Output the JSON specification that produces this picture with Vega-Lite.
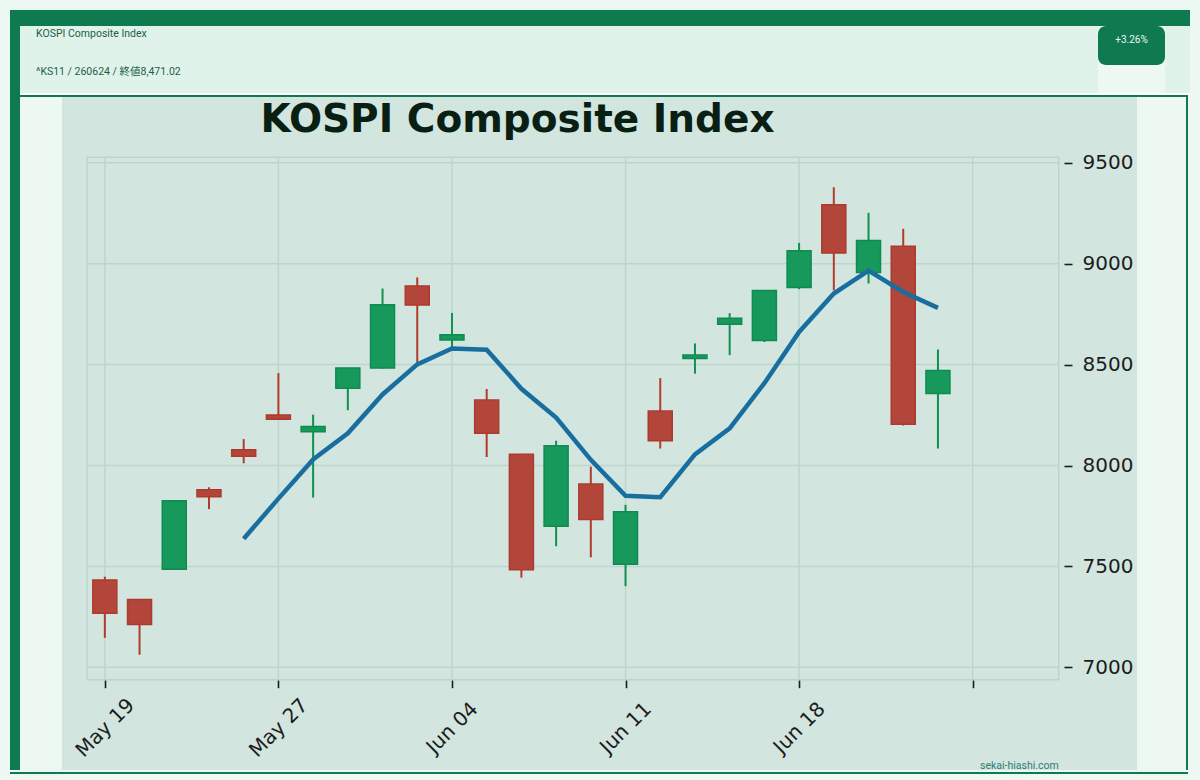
{
  "$schema": "https://vega.github.io/schema/vega-lite/v6.json",
  "background": "#edf8f2",
  "padding": {"left": 10, "top": 10, "right": 10, "bottom": 8},
  "spacing": 0,
  "config": {"view": {"stroke": null}, "font": "DejaVu Sans"},
  "datasets": {
    "ohlc": [
      {"i": 0, "date": "2026-05-19", "open": 7433, "high": 7449, "low": 7146, "close": 7268, "ma": null},
      {"i": 1, "date": "2026-05-20", "open": 7336, "high": 7338, "low": 7062, "close": 7212, "ma": null},
      {"i": 2, "date": "2026-05-21", "open": 7486, "high": 7828, "low": 7484, "close": 7825, "ma": null},
      {"i": 3, "date": "2026-05-22", "open": 7880, "high": 7892, "low": 7784, "close": 7845, "ma": null},
      {"i": 4, "date": "2026-05-26", "open": 8078, "high": 8131, "low": 8011, "close": 8046, "ma": 7637},
      {"i": 5, "date": "2026-05-27", "open": 8250, "high": 8458, "low": 8226, "close": 8229, "ma": 7836},
      {"i": 6, "date": "2026-05-28", "open": 8167, "high": 8252, "low": 7841, "close": 8193, "ma": 8030},
      {"i": 7, "date": "2026-05-29", "open": 8383, "high": 8485, "low": 8274, "close": 8483, "ma": 8160},
      {"i": 8, "date": "2026-06-01", "open": 8483, "high": 8877, "low": 8480, "close": 8796, "ma": 8352},
      {"i": 9, "date": "2026-06-02", "open": 8890, "high": 8932, "low": 8505, "close": 8795, "ma": 8501},
      {"i": 10, "date": "2026-06-04", "open": 8622, "high": 8756, "low": 8585, "close": 8648, "ma": 8580},
      {"i": 11, "date": "2026-06-05", "open": 8324, "high": 8379, "low": 8042, "close": 8160, "ma": 8574},
      {"i": 12, "date": "2026-06-08", "open": 8056, "high": 8058, "low": 7444, "close": 7483, "ma": 8380},
      {"i": 13, "date": "2026-06-09", "open": 7699, "high": 8123, "low": 7600, "close": 8098, "ma": 8238},
      {"i": 14, "date": "2026-06-10", "open": 7908, "high": 7994, "low": 7545, "close": 7733, "ma": 8028},
      {"i": 15, "date": "2026-06-11", "open": 7511, "high": 7805, "low": 7402, "close": 7771, "ma": 7850},
      {"i": 16, "date": "2026-06-12", "open": 8270, "high": 8433, "low": 8084, "close": 8123, "ma": 7843},
      {"i": 17, "date": "2026-06-15", "open": 8530, "high": 8605, "low": 8455, "close": 8547, "ma": 8055},
      {"i": 18, "date": "2026-06-16", "open": 8700, "high": 8755, "low": 8547, "close": 8730, "ma": 8184},
      {"i": 19, "date": "2026-06-17", "open": 8620, "high": 8869, "low": 8612, "close": 8867, "ma": 8408},
      {"i": 20, "date": "2026-06-18", "open": 8882, "high": 9103, "low": 8874, "close": 9064, "ma": 8662},
      {"i": 21, "date": "2026-06-19", "open": 9292, "high": 9379, "low": 8868, "close": 9053, "ma": 8852},
      {"i": 22, "date": "2026-06-22", "open": 8956, "high": 9252, "low": 8902, "close": 9115, "ma": 8966},
      {"i": 23, "date": "2026-06-23", "open": 9086, "high": 9173, "low": 8198, "close": 8204, "ma": 8860},
      {"i": 24, "date": "2026-06-24", "open": 8357, "high": 8575, "low": 8084, "close": 8471.02, "ma": 8781}
    ],
    "hgrid": [{"v": 7000}, {"v": 7500}, {"v": 8000}, {"v": 8500}, {"v": 9000}, {"v": 9500}],
    "vgrid": [{"i": 0}, {"i": 5}, {"i": 10}, {"i": 15}, {"i": 20}, {"i": 25}]
  },
  "vconcat": [
    {"width": 1180, "height": 16, "data": {"values": []}, "mark": "point", "view": {"fill": "#0f7950", "stroke": null}},
    {
      "hconcat": [
        {"width": 10, "height": 67, "data": {"values": []}, "mark": "point", "view": {"fill": "#0f7950", "stroke": null}},
        {
          "width": 1078, "height": 67,
          "data": {"values": []}, "mark": "point",
          "view": {"fill": "#dff3ea", "stroke": null},
          "title": {"text": "KOSPI Composite Index", "subtitle": "^KS11 / 260624 / 終値8,471.02", "anchor": "start", "frame": "group", "orient": "top", "offset": -51, "dx": 16, "font": "Roboto", "fontSize": 10.5, "fontWeight": "normal", "color": "#1e5e47", "subtitleFont": "Roboto, Noto Sans CJK JP", "subtitleFontSize": 10.5, "subtitleColor": "#1e5e47", "subtitlePadding": 27}
        },
        {
          "width": 67, "height": 39,
          "data": {"values": [{"t": "+3.26%"}]},
          "mark": {"type": "text", "font": "Roboto", "fontSize": 10, "color": "#eef8f3", "baseline": "middle", "align": "center", "dy": -6},
          "encoding": {"text": {"field": "t"}},
          "view": {"fill": "#0f7950", "stroke": null, "cornerRadius": 8}
        },
        {"width": 25, "height": 67, "data": {"values": []}, "mark": "point", "view": {"fill": "#dff3ea", "stroke": null}}
      ],
      "spacing": 0, "bounds": "flush"
    },
    {
      "hconcat": [
        {"width": 10, "height": 2, "data": {"values": []}, "mark": "point", "view": {"fill": "#0f7950", "stroke": null}},
        {"width": 1170, "height": 2, "data": {"values": []}, "mark": "point", "view": {"fill": "#ffffff", "stroke": null}}
      ],
      "spacing": 0, "bounds": "flush"
    },
    {
      "hconcat": [
        {"width": 10, "height": 2, "data": {"values": []}, "mark": "point", "view": {"fill": "#0f7950", "stroke": null}},
        {"width": 1168, "height": 2, "data": {"values": []}, "mark": "point", "view": {"fill": "#0f7950", "stroke": null}}
      ],
      "spacing": 0, "bounds": "flush"
    },
    {
      "hconcat": [
        {"width": 10, "height": 673, "data": {"values": []}, "mark": "point", "view": {"fill": "#0f7950", "stroke": null}},
        {"width": 42, "height": 673, "data": {"values": []}, "mark": "point", "view": {"fill": null, "stroke": null}},
        {
          "width": 1075, "height": 673,
          "view": {"fill": "#d2e6df", "stroke": null},
          "title": {"text": "KOSPI Composite Index", "font": "DejaVu Sans", "fontWeight": "bold", "fontSize": 39, "color": "#0a1f14", "anchor": "middle", "frame": "group", "orient": "top", "dx": -82, "offset": -43},
          "data": {"name": "ohlc"},
          "layer": [
            {
              "data": {"name": "hgrid"},
              "mark": {"type": "rule", "color": "#bcd6ce", "strokeWidth": 1.5},
              "encoding": {
                "y": {"field": "v", "type": "quantitative", "scale": {"domain": [6491.1, 9826.1], "nice": false, "zero": false},
                  "axis": {"orient": "right", "offset": -73, "values": [7000, 7500, 8000, 8500, 9000, 9500], "format": "d", "grid": false, "domain": false, "ticks": true, "tickSize": 8, "tickWidth": 1.6, "tickColor": "#1e1e1e", "labelFont": "DejaVu Sans", "labelFontSize": 20, "labelColor": "#1c1c1c", "labelPadding": 10, "title": null, "labelFlush": false, "labelOverlap": false}},
                "x": {"datum": -0.51, "type": "quantitative", "scale": {"domain": [-1.09, 29.59], "nice": false, "zero": false},
                  "axis": {"orient": "bottom", "offset": -90.3, "values": [0, 5, 10, 15, 20, 25], "labelExpr": "['May 19','May 27','Jun 04','Jun 11','Jun 18',''][round(datum.value/5)]", "labelAngle": -45, "labelAlign": "center", "labelBaseline": "middle", "grid": false, "domain": false, "ticks": true, "tickSize": 8, "tickWidth": 1.6, "tickColor": "#1e1e1e", "labelFont": "DejaVu Sans", "labelFontSize": 20, "labelColor": "#1c1c1c", "labelPadding": 40, "title": null, "labelFlush": false, "labelOverlap": false}},
                "x2": {"datum": 27.48}
              }
            },
            {
              "data": {"name": "vgrid"},
              "mark": {"type": "rule", "color": "#bcd6ce", "strokeWidth": 1.5},
              "encoding": {
                "x": {"field": "i", "type": "quantitative", "scale": {"domain": [-1.09, 29.59], "nice": false, "zero": false},
                  "axis": {"orient": "bottom", "offset": -90.3, "values": [0, 5, 10, 15, 20, 25], "labelExpr": "['May 19','May 27','Jun 04','Jun 11','Jun 18',''][round(datum.value/5)]", "labelAngle": -45, "labelAlign": "center", "labelBaseline": "middle", "grid": false, "domain": false, "ticks": true, "tickSize": 8, "tickWidth": 1.6, "tickColor": "#1e1e1e", "labelFont": "DejaVu Sans", "labelFontSize": 20, "labelColor": "#1c1c1c", "labelPadding": 40, "title": null, "labelFlush": false, "labelOverlap": false}},
                "y": {"datum": 6938, "type": "quantitative", "scale": {"domain": [6491.1, 9826.1], "nice": false, "zero": false},
                  "axis": {"orient": "right", "offset": -73, "values": [7000, 7500, 8000, 8500, 9000, 9500], "format": "d", "grid": false, "domain": false, "ticks": true, "tickSize": 8, "tickWidth": 1.6, "tickColor": "#1e1e1e", "labelFont": "DejaVu Sans", "labelFontSize": 20, "labelColor": "#1c1c1c", "labelPadding": 10, "title": null, "labelFlush": false, "labelOverlap": false}},
                "y2": {"datum": 9527}
              }
            },
            {
              "data": {"values": [{}]},
              "mark": {"type": "rect", "fill": "transparent", "stroke": "#bcd6ce", "strokeWidth": 1.5},
              "encoding": {
                "x": {"datum": -0.51, "type": "quantitative", "scale": {"domain": [-1.09, 29.59], "nice": false, "zero": false},
                  "axis": {"orient": "bottom", "offset": -90.3, "values": [0, 5, 10, 15, 20, 25], "labelExpr": "['May 19','May 27','Jun 04','Jun 11','Jun 18',''][round(datum.value/5)]", "labelAngle": -45, "labelAlign": "center", "labelBaseline": "middle", "grid": false, "domain": false, "ticks": true, "tickSize": 8, "tickWidth": 1.6, "tickColor": "#1e1e1e", "labelFont": "DejaVu Sans", "labelFontSize": 20, "labelColor": "#1c1c1c", "labelPadding": 40, "title": null, "labelFlush": false, "labelOverlap": false}},
                "x2": {"datum": 27.48},
                "y": {"datum": 9527, "type": "quantitative", "scale": {"domain": [6491.1, 9826.1], "nice": false, "zero": false},
                  "axis": {"orient": "right", "offset": -73, "values": [7000, 7500, 8000, 8500, 9000, 9500], "format": "d", "grid": false, "domain": false, "ticks": true, "tickSize": 8, "tickWidth": 1.6, "tickColor": "#1e1e1e", "labelFont": "DejaVu Sans", "labelFontSize": 20, "labelColor": "#1c1c1c", "labelPadding": 10, "title": null, "labelFlush": false, "labelOverlap": false}},
                "y2": {"datum": 6938}
              }
            },
            {
              "mark": {"type": "rule", "strokeWidth": 2},
              "encoding": {
                "x": {"field": "i", "type": "quantitative", "scale": {"domain": [-1.09, 29.59], "nice": false, "zero": false},
                  "axis": {"orient": "bottom", "offset": -90.3, "values": [0, 5, 10, 15, 20, 25], "labelExpr": "['May 19','May 27','Jun 04','Jun 11','Jun 18',''][round(datum.value/5)]", "labelAngle": -45, "labelAlign": "center", "labelBaseline": "middle", "grid": false, "domain": false, "ticks": true, "tickSize": 8, "tickWidth": 1.6, "tickColor": "#1e1e1e", "labelFont": "DejaVu Sans", "labelFontSize": 20, "labelColor": "#1c1c1c", "labelPadding": 40, "title": null, "labelFlush": false, "labelOverlap": false}},
                "y": {"field": "low", "type": "quantitative", "scale": {"domain": [6491.1, 9826.1], "nice": false, "zero": false},
                  "axis": {"orient": "right", "offset": -73, "values": [7000, 7500, 8000, 8500, 9000, 9500], "format": "d", "grid": false, "domain": false, "ticks": true, "tickSize": 8, "tickWidth": 1.6, "tickColor": "#1e1e1e", "labelFont": "DejaVu Sans", "labelFontSize": 20, "labelColor": "#1c1c1c", "labelPadding": 10, "title": null, "labelFlush": false, "labelOverlap": false}},
                "y2": {"field": "high"},
                "color": {"condition": {"test": "datum.close >= datum.open", "value": "#0f914f"}, "value": "#b33b2d"}
              }
            },
            {
              "mark": {"type": "bar", "width": 24, "strokeWidth": 1.5},
              "encoding": {
                "x": {"field": "i", "type": "quantitative", "scale": {"domain": [-1.09, 29.59], "nice": false, "zero": false},
                  "axis": {"orient": "bottom", "offset": -90.3, "values": [0, 5, 10, 15, 20, 25], "labelExpr": "['May 19','May 27','Jun 04','Jun 11','Jun 18',''][round(datum.value/5)]", "labelAngle": -45, "labelAlign": "center", "labelBaseline": "middle", "grid": false, "domain": false, "ticks": true, "tickSize": 8, "tickWidth": 1.6, "tickColor": "#1e1e1e", "labelFont": "DejaVu Sans", "labelFontSize": 20, "labelColor": "#1c1c1c", "labelPadding": 40, "title": null, "labelFlush": false, "labelOverlap": false}},
                "y": {"field": "open", "type": "quantitative", "scale": {"domain": [6491.1, 9826.1], "nice": false, "zero": false},
                  "axis": {"orient": "right", "offset": -73, "values": [7000, 7500, 8000, 8500, 9000, 9500], "format": "d", "grid": false, "domain": false, "ticks": true, "tickSize": 8, "tickWidth": 1.6, "tickColor": "#1e1e1e", "labelFont": "DejaVu Sans", "labelFontSize": 20, "labelColor": "#1c1c1c", "labelPadding": 10, "title": null, "labelFlush": false, "labelOverlap": false}},
                "y2": {"field": "close"},
                "fill": {"condition": {"test": "datum.close >= datum.open", "value": "#17995c"}, "value": "#b2463a"},
                "stroke": {"condition": {"test": "datum.close >= datum.open", "value": "#0f8b50"}, "value": "#ad3a2d"}
              }
            },
            {
              "mark": {"type": "line", "color": "#186f9f", "strokeWidth": 4.5},
              "encoding": {
                "x": {"field": "i", "type": "quantitative", "scale": {"domain": [-1.09, 29.59], "nice": false, "zero": false},
                  "axis": {"orient": "bottom", "offset": -90.3, "values": [0, 5, 10, 15, 20, 25], "labelExpr": "['May 19','May 27','Jun 04','Jun 11','Jun 18',''][round(datum.value/5)]", "labelAngle": -45, "labelAlign": "center", "labelBaseline": "middle", "grid": false, "domain": false, "ticks": true, "tickSize": 8, "tickWidth": 1.6, "tickColor": "#1e1e1e", "labelFont": "DejaVu Sans", "labelFontSize": 20, "labelColor": "#1c1c1c", "labelPadding": 40, "title": null, "labelFlush": false, "labelOverlap": false}},
                "y": {"field": "ma", "type": "quantitative", "scale": {"domain": [6491.1, 9826.1], "nice": false, "zero": false},
                  "axis": {"orient": "right", "offset": -73, "values": [7000, 7500, 8000, 8500, 9000, 9500], "format": "d", "grid": false, "domain": false, "ticks": true, "tickSize": 8, "tickWidth": 1.6, "tickColor": "#1e1e1e", "labelFont": "DejaVu Sans", "labelFontSize": 20, "labelColor": "#1c1c1c", "labelPadding": 10, "title": null, "labelFlush": false, "labelOverlap": false}}
              }
            },
            {
              "data": {"values": [{"t": "sekai-hiashi.com"}]},
              "mark": {"type": "text", "align": "right", "baseline": "middle", "font": "Roboto", "fontSize": 10.5, "color": "#2f7d76"},
              "encoding": {
                "x": {"datum": 27.48, "type": "quantitative", "scale": {"domain": [-1.09, 29.59], "nice": false, "zero": false},
                  "axis": {"orient": "bottom", "offset": -90.3, "values": [0, 5, 10, 15, 20, 25], "labelExpr": "['May 19','May 27','Jun 04','Jun 11','Jun 18',''][round(datum.value/5)]", "labelAngle": -45, "labelAlign": "center", "labelBaseline": "middle", "grid": false, "domain": false, "ticks": true, "tickSize": 8, "tickWidth": 1.6, "tickColor": "#1e1e1e", "labelFont": "DejaVu Sans", "labelFontSize": 20, "labelColor": "#1c1c1c", "labelPadding": 40, "title": null, "labelFlush": false, "labelOverlap": false}},
                "y": {"datum": 6511, "type": "quantitative", "scale": {"domain": [6491.1, 9826.1], "nice": false, "zero": false},
                  "axis": {"orient": "right", "offset": -73, "values": [7000, 7500, 8000, 8500, 9000, 9500], "format": "d", "grid": false, "domain": false, "ticks": true, "tickSize": 8, "tickWidth": 1.6, "tickColor": "#1e1e1e", "labelFont": "DejaVu Sans", "labelFontSize": 20, "labelColor": "#1c1c1c", "labelPadding": 10, "title": null, "labelFlush": false, "labelOverlap": false}},
                "text": {"field": "t"}
              }
            }
          ]
        },
        {"width": 49, "height": 673, "data": {"values": []}, "mark": "point", "view": {"fill": null, "stroke": null}},
        {"width": 2, "height": 673, "data": {"values": []}, "mark": "point", "view": {"fill": "#0f7950", "stroke": null}}
      ],
      "spacing": 0, "bounds": "flush"
    },
    {"width": 1178, "height": 2, "data": {"values": []}, "mark": "point", "view": {"fill": "#0f7950", "stroke": null}}
  ]
}
